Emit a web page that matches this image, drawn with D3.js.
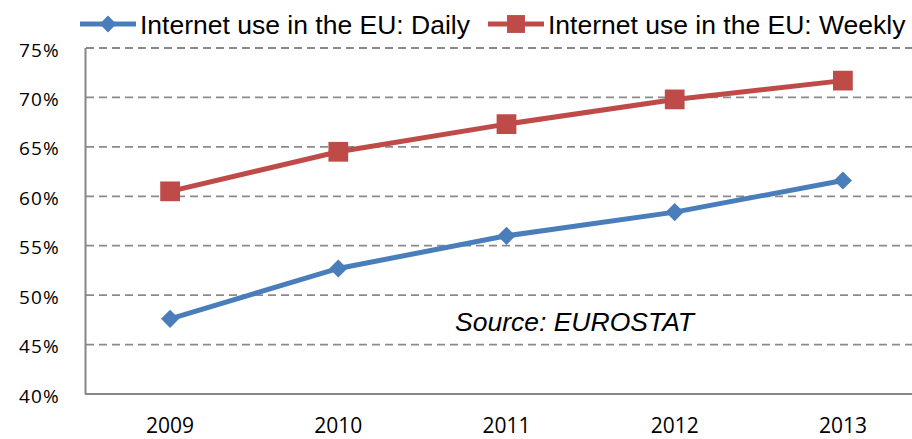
<!DOCTYPE html>
<html>
<head>
<meta charset="utf-8">
<script src="https://cdn.jsdelivr.net/npm/d3@7"></script>
<style>
  body { margin: 0; background: #fff; }
  svg { display: block; }
</style>
</head>
<body>
<svg width="912" height="439"></svg>
<script>
const years = ["2009", "2010", "2011", "2012", "2013"];
const daily = [47.6, 52.7, 56.0, 58.4, 61.6];
const weekly = [60.5, 64.5, 67.3, 69.8, 71.7];
const yTicks = [40, 45, 50, 55, 60, 65, 70, 75];

const svg = d3.select("svg");
const plot = { left: 86, right: 927, top: 48, bottom: 394 };

const x = d3.scalePoint().domain(years).range([plot.left, plot.right]).padding(0.5);
const y = d3.scaleLinear().domain([40, 75]).range([plot.bottom, plot.top]);

// gridlines
svg.append("g")
  .selectAll("line")
  .data(yTicks.filter(d => d > 40))
  .join("line")
  .attr("x1", plot.left).attr("x2", 912)
  .attr("y1", d => y(d)).attr("y2", d => y(d))
  .attr("stroke", "#8a8a8a")
  .attr("stroke-width", 1.8)
  .attr("stroke-dasharray", "8,5");

// axes lines
svg.append("line")
  .attr("x1", plot.left - 0.5).attr("x2", plot.left - 0.5)
  .attr("y1", plot.top).attr("y2", plot.bottom)
  .attr("stroke", "#868686").attr("stroke-width", 2);
svg.append("line")
  .attr("x1", plot.left - 1).attr("x2", 912)
  .attr("y1", plot.bottom).attr("y2", plot.bottom)
  .attr("stroke", "#868686").attr("stroke-width", 2);

// y labels
svg.append("g")
  .selectAll("text")
  .data(yTicks)
  .join("text")
  .attr("x", 60)
  .attr("y", d => y(d) + 8.5)
  .attr("text-anchor", "end")
  .attr("font-family", "'Open Sans', sans-serif")
  .attr("font-size", 19)
  .attr("letter-spacing", 1.2)
  .attr("fill", "#000")
  .text(d => d + "%");

// x labels
svg.append("g")
  .selectAll("text")
  .data(years)
  .join("text")
  .attr("x", d => x(d))
  .attr("y", 433)
  .attr("text-anchor", "middle")
  .attr("font-family", "'Open Sans', sans-serif")
  .attr("font-size", 21)
  .attr("fill", "#000")
  .text(d => d);

const line = d3.line()
  .x((d, i) => x(years[i]))
  .y(d => y(d));

const blue = "#4a7ebb", red = "#be4b48";

svg.append("path")
  .attr("d", line(weekly))
  .attr("fill", "none").attr("stroke", red).attr("stroke-width", 5);
svg.append("path")
  .attr("d", line(daily))
  .attr("fill", "none").attr("stroke", blue).attr("stroke-width", 5);

const diamond = d3.symbol().type(d3.symbolDiamond2).size(210);
const square = d3.symbol().type(d3.symbolSquare).size(390);

svg.append("g")
  .selectAll("path")
  .data(weekly)
  .join("path")
  .attr("d", square)
  .attr("transform", (d, i) => `translate(${x(years[i])},${y(d)})`)
  .attr("fill", red);

svg.append("g")
  .selectAll("path")
  .data(daily)
  .join("path")
  .attr("d", diamond)
  .attr("transform", (d, i) => `translate(${x(years[i])},${y(d)})`)
  .attr("fill", blue);

// legend
const legend = [
  { label: "Internet use in the EU: Daily", color: blue, sym: d3.symbol().type(d3.symbolDiamond2).size(180), x0: 80 },
  { label: "Internet use in the EU: Weekly", color: red, sym: d3.symbol().type(d3.symbolSquare).size(320), x0: 488 }
];
const lg = svg.append("g").selectAll("g").data(legend).join("g")
  .attr("transform", d => `translate(${d.x0},24)`);
lg.append("line")
  .attr("x1", 0).attr("x2", 56)
  .attr("stroke", d => d.color).attr("stroke-width", 5);
lg.append("path")
  .attr("d", d => d.sym())
  .attr("transform", "translate(28,0)")
  .attr("fill", d => d.color);
lg.append("text")
  .attr("x", 60).attr("y", 10)
  .attr("font-family", "'Liberation Sans', Arial, sans-serif")
  .attr("font-size", 26.5)
  .attr("fill", "#000")
  .text(d => d.label);

svg.append("text")
  .attr("x", 455).attr("y", 331)
  .attr("font-family", "'Liberation Sans', Arial, sans-serif")
  .attr("font-size", 26.5)
  .attr("font-style", "italic")
  .attr("fill", "#000")
  .text("Source: EUROSTAT");
</script>
</body>
</html>
